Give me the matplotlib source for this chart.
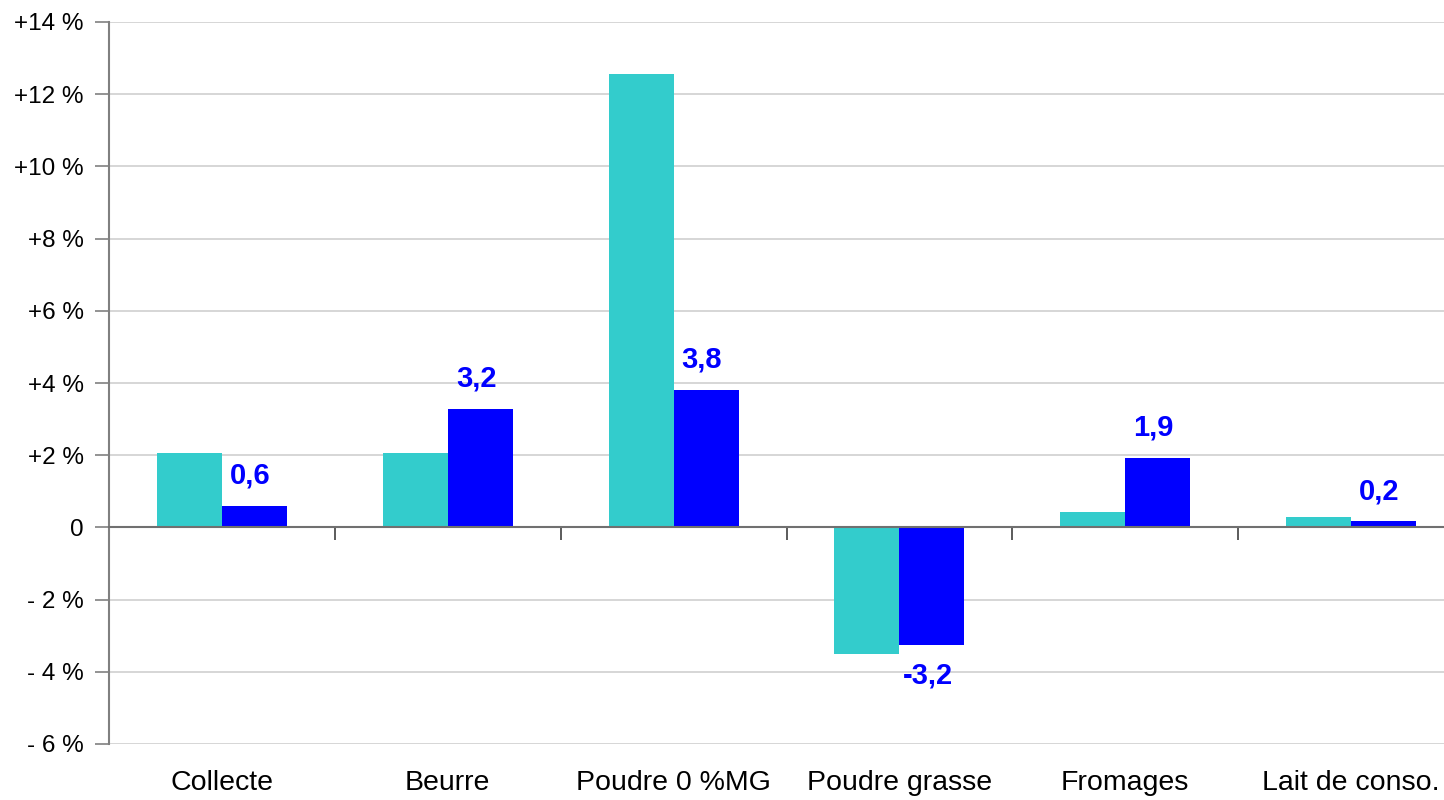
import numpy as np
import matplotlib
matplotlib.use('Agg')
import matplotlib.pyplot as plt

#----------------------------
#          DATA
#----------------------------
categories = ['Collecte', 'Beurre', 'Poudre 0 %MG', 'Poudre grasse', 'Fromages', 'Lait de conso.']
serie1 = [2.05, 2.05, 12.55, -3.5, 0.42, 0.28]
serie2 = [0.6, 3.28, 3.8, -3.25, 1.92, 0.17]
labels2 = ['0,6', '3,2', '3,8', '-3,2', '1,9', '0,2']
yticks = [-6, -4, -2, 0, 2, 4, 6, 8, 10, 12, 14]
ytick_labels = ['- 6 %', '- 4 %', '- 2 %', '0', '+2 %', '+4 %', '+6 %', '+8 %',
                '+10 %', '+12 %', '+14 %']

plt.rcParams['font.family'] = ['Liberation Sans', 'DejaVu Sans']

fig = plt.figure(figsize=(14.44, 8), dpi=100)
ax = fig.add_axes([109/1444, 0.07, 1355/1444, 0.9025])

x = np.arange(len(categories))
w = 0.288
ax.bar(x - w/2, serie1, w, color='#33CCCC', zorder=3)
ax.bar(x + w/2, serie2, w, color='#0000FF', zorder=3)

# labels on the blue bars
for xi, v, lab in zip(x, serie2, labels2):
    off = 16 if v >= 0 else -28
    ax.annotate(lab, (xi + w/2, v), xytext=(-3, off), textcoords='offset points',
                ha='center', va='baseline', fontsize=21, fontweight='bold',
                color='#0000FF')

ax.set_xlim(-0.5, len(categories) - 0.5)
ax.set_ylim(-6, 14)
ax.set_yticks(yticks)
ax.set_yticklabels(ytick_labels, fontsize=17.5)
ax.tick_params(axis='y', direction='out', length=10, width=1.2, color='#808080', pad=8)
ax.yaxis.grid(True, color='#d0d0d0', linewidth=1.2, zorder=0)

ax.set_xticks(x)
ax.set_xticklabels(categories, fontsize=20.5)
ax.tick_params(axis='x', length=0, pad=19)

for s in ['top', 'right', 'bottom']:
    ax.spines[s].set_visible(False)
ax.spines['left'].set_color('#808080')
ax.spines['left'].set_linewidth(1.5)

# zero axis with category separators
sec = ax.secondary_xaxis(6/20)
sec.set_xticks(np.arange(0.5, len(categories) - 0.5, 1))
sec.set_xticklabels([])
sec.tick_params(direction='out', length=9, width=1.2, color='#404040')
sec.spines['bottom'].set_color('#707070')
sec.spines['bottom'].set_linewidth(1.5)
sec.set_zorder(4)

plt.savefig('out.png', dpi=100)
